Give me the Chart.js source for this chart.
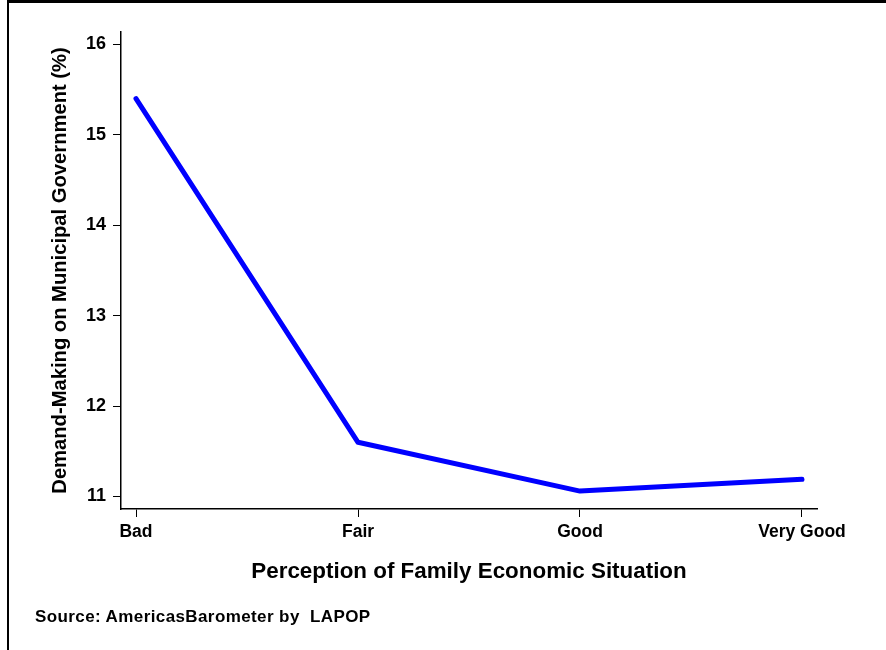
<!DOCTYPE html>
<html>
<head>
<meta charset="utf-8">
<script src="https://cdn.jsdelivr.net/npm/chart.js@4.4.0/dist/chart.umd.min.js"></script>
<style>
  html, body { margin: 0; padding: 0; background: #fff; }
  #wrap { position: relative; width: 886px; height: 650px; overflow: hidden; }
  #frame { position: absolute; left: 7px; top: 0; width: 1000px; height: 1000px;
           border-left: 2px solid #000; border-top: 3px solid #000; pointer-events: none; box-sizing: border-box; }
  #source { position: absolute; left: 35px; top: 607px; font: bold 17px "Liberation Sans", Arial, sans-serif;
            letter-spacing: 0.4px; line-height: 1.2; white-space: pre; color: #000; }
  canvas { position: absolute; left: 0; top: 0; }
</style>
</head>
<body>
<div id="wrap">
  <canvas id="c" width="886" height="650"></canvas>
  <div id="frame"></div>
  <div id="source">Source: AmericasBarometer by  LAPOP</div>
</div>
<script>
const categories = ["Bad", "Fair", "Good", "Very Good"];
const demandValues = [15.4, 11.6, 11.06, 11.19];
const yTickValues = [11, 12, 13, 14, 15, 16];
const xTitle = "Perception of Family Economic Situation";
const yTitle = "Demand-Making on Municipal Government (%)";

const FONT = "'Liberation Sans', Arial, sans-serif";

const points = categories.map((c, i) => ({ x: i, y: demandValues[i] }));

new Chart(document.getElementById('c'), {
  type: 'line',
  data: {
    datasets: [{
      data: points,
      borderColor: '#0000ff',
      borderWidth: 5,
      pointRadius: 0,
      tension: 0,
      borderCapStyle: 'round',
      borderJoinStyle: 'round',
      fill: false
    }]
  },
  options: {
    responsive: false,
    animation: false,
    events: [],
    layout: { padding: { left: 40, top: 32, right: 69, bottom: 65 } },
    plugins: { legend: { display: false }, tooltip: { enabled: false } },
    scales: {
      x: {
        type: 'linear',
        min: -0.0676,
        max: 3.0676,
        afterBuildTicks: s => { s.ticks = categories.map((c, i) => ({ value: i })); },
        afterFit: s => { s.height = 76; },
        ticks: {
          callback: v => categories[v] ?? '',
          color: '#000',
          font: { family: FONT, size: 17.5, weight: 'bold' },
          padding: 5,
          maxRotation: 0,
          autoSkip: false
        },
        grid: { display: true, drawOnChartArea: false, drawTicks: true, tickLength: 8, color: '#000', lineWidth: 1 },
        border: { display: true, color: '#000', width: 1.5 },
        title: {
          display: true, text: xTitle, color: '#000',
          font: { family: FONT, size: 22.4, weight: 'bold' },
          padding: { top: 0, bottom: 0 }
        }
      },
      y: {
        type: 'linear',
        min: 10.862,
        max: 16.138,
        afterBuildTicks: s => { s.ticks = yTickValues.map(v => ({ value: v })); },
        afterFit: s => { s.width = 81; },
        ticks: {
          color: '#000',
          font: { family: FONT, size: 18, weight: 'bold' },
          padding: 7
        },
        grid: { display: true, drawOnChartArea: false, drawTicks: true, tickLength: 8, color: '#000', lineWidth: 1 },
        border: { display: true, color: '#000', width: 1.5 },
        title: {
          display: true, text: yTitle, color: '#000',
          font: { family: FONT, size: 20.2, weight: 'bold' },
          padding: { top: 8, bottom: 0 }
        }
      }
    }
  }
});
</script>
</body>
</html>
